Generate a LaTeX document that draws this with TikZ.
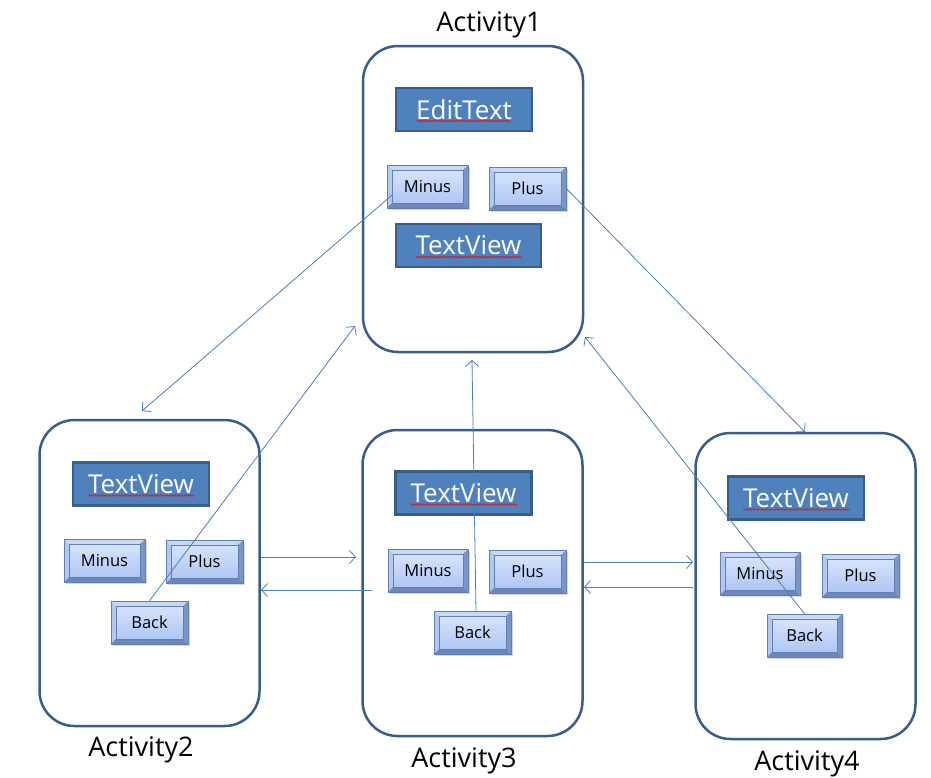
\documentclass[tikz,border=0pt]{standalone}
\usepackage{fontspec}
\setmainfont{Open Sans}
\usetikzlibrary{arrows.meta,decorations.pathmorphing,shadows}
\definecolor{frame}{HTML}{385D8A}
\definecolor{boxfill}{HTML}{4F81BD}
\definecolor{conncol}{HTML}{4A7EBB}
\definecolor{btnedge}{HTML}{5F7FB5}
\definecolor{btntop}{HTML}{DCE7FE}
\definecolor{btnbot}{HTML}{A8C2F2}
\definecolor{bevtop}{HTML}{C9D9F5}
\definecolor{bevleft}{HTML}{B3C8EE}
\definecolor{bevright}{HTML}{7D95C4}
\definecolor{bevbot}{HTML}{6F87B8}
\tikzset{
  actbox/.style={draw=frame, line width=2.5pt, rounded corners=35pt,
    minimum width=220pt, minimum height=306pt},
  viewbox/.style={draw=frame, fill=boxfill, line width=2.5pt, text=white,
    minimum width=136pt, minimum height=43pt, inner sep=0pt,
    font=\fontsize{26}{26}\selectfont},
  wavy/.style={draw=red, line width=0.6pt,
    decorate, decoration={snake, segment length=3pt, amplitude=0.8pt}},
  btn/.style={draw=btnedge, line width=0.6pt, top color=btntop, bottom color=btnbot,
    minimum width=#1, minimum height=43pt, inner sep=0pt,
    font=\fontsize{16.5}{16.5}\selectfont,
    drop shadow={shadow xshift=1.5pt, shadow yshift=-2pt, opacity=0.3},
    path picture={
      \fill[bevtop] (path picture bounding box.north west) -- (path picture bounding box.north east)
        -- ([xshift=-5pt,yshift=-5pt]path picture bounding box.north east)
        -- ([xshift=5pt,yshift=-5pt]path picture bounding box.north west) -- cycle;
      \fill[bevleft] (path picture bounding box.north west)
        -- ([xshift=5pt,yshift=-5pt]path picture bounding box.north west)
        -- ([xshift=5pt,yshift=5pt]path picture bounding box.south west)
        -- (path picture bounding box.south west) -- cycle;
      \fill[bevright] (path picture bounding box.north east) -- (path picture bounding box.south east)
        -- ([xshift=-5pt,yshift=5pt]path picture bounding box.south east)
        -- ([xshift=-5pt,yshift=-5pt]path picture bounding box.north east) -- cycle;
      \fill[bevbot] (path picture bounding box.south west) -- (path picture bounding box.south east)
        -- ([xshift=-5pt,yshift=5pt]path picture bounding box.south east)
        -- ([xshift=5pt,yshift=5pt]path picture bounding box.south west) -- cycle;
      \draw[btnedge, line width=0.5pt] ([xshift=5pt,yshift=-5pt]path picture bounding box.north west)
        rectangle ([xshift=-5pt,yshift=5pt]path picture bounding box.south east);
    }},
  btn/.default=80pt,
  actlabel/.style={font=\fontsize{27}{27}\selectfont, inner sep=0pt},
  conn/.style={draw=conncol, line width=0.8pt, -{Straight Barb[length=6pt,width=13pt]}}
}
\begin{document}
\begin{tikzpicture}[x=1pt,y=-1pt]
\useasboundingbox[fill=white] (0,0) rectangle (931,777);

% Activity boxes
\node[actbox] (A1) at (473,199) {};
\node[actbox] (A2) at (149.5,573) {};
\node[actbox] (A3) at (472.5,583) {};
\node[actbox] (A4) at (805.5,586) {};

% labels
\node[actlabel] (L1) at (489,25) {Activity1};
\node[actlabel] (L2) at (141,750) {Activity2};
\node[actlabel] (L3) at (464,761) {Activity3};
\node[actlabel] (L4) at (807,764) {Activity4};

% blue views
\node[viewbox] (e1) at (464,109.5) {EditText};
\node[viewbox, minimum width=145pt] (t1) at (468.5,245.5) {TextView};
\node[viewbox] (t2) at (141,484) {TextView};
\node[viewbox] (t3) at (463.5,493) {TextView};
\node[viewbox] (t4) at (796,498) {TextView};
\draw[wavy] ([shift={(-47,11.5)}]e1.center) -- ++(94,0);
\draw[wavy] ([shift={(-53,11.5)}]t1.center) -- ++(106,0);
\draw[wavy] ([shift={(-53,11.5)}]t2.center) -- ++(106,0);
\draw[wavy] ([shift={(-53,11.5)}]t3.center) -- ++(106,0);
\draw[wavy] ([shift={(-53,11.5)}]t4.center) -- ++(106,0);

% buttons
\node[btn=81pt] (m1) at (427.5,186.5) {Minus};
\node[btn=77pt] (p1) at (527.5,188.5) {Plus};
\node[btn=81pt] (m2) at (104.5,560.5) {Minus};
\node[btn=77pt] (p2) at (204.5,561.5) {Plus};
\node[btn=77pt] (b2) at (149.5,622.5) {Back};
\node[btn=80pt] (m3) at (428,570.5) {Minus};
\node[btn=77pt] (p3) at (527.5,571.5) {Plus};
\node[btn=77pt] (b3) at (472.5,632.5) {Back};
\node[btn=80pt] (m4) at (760,573.5) {Minus};
\node[btn=77pt] (p4) at (860.5,575.5) {Plus};
\node[btn=75pt] (b4) at (804.5,635.5) {Back};

% connector end points
\coordinate (s1) at (392,195);
\coordinate (e2top) at (142,411);
\coordinate (e4top) at (805,432);
\coordinate (e1bl) at (355,326);
\coordinate (e1b) at (472,360);
\coordinate (e1br) at (585,337);
\coordinate (s3b) at (476,611);
\coordinate (h1s) at (261,557);
\coordinate (h1e) at (356,557);
\coordinate (h2s) at (372,590);
\coordinate (h2e) at (261,590);
\coordinate (h3s) at (584,562);
\coordinate (h3e) at (693,562);
\coordinate (h4s) at (693,587);
\coordinate (h4e) at (584,587);

% connectors
\draw[conn] (s1) -- (e2top);
\draw[conn] (p1.east) -- (e4top);
\draw[conn] (b2.north) -- (e1bl);
\draw[conn] (s3b) -- (e1b);
\draw[conn] (b4.north) -- (e1br);
\draw[conn] (h1s) -- (h1e);
\draw[conn] (h2s) -- (h2e);
\draw[conn] (h3s) -- (h3e);
\draw[conn] (h4s) -- (h4e);
\end{tikzpicture}
\end{document}
